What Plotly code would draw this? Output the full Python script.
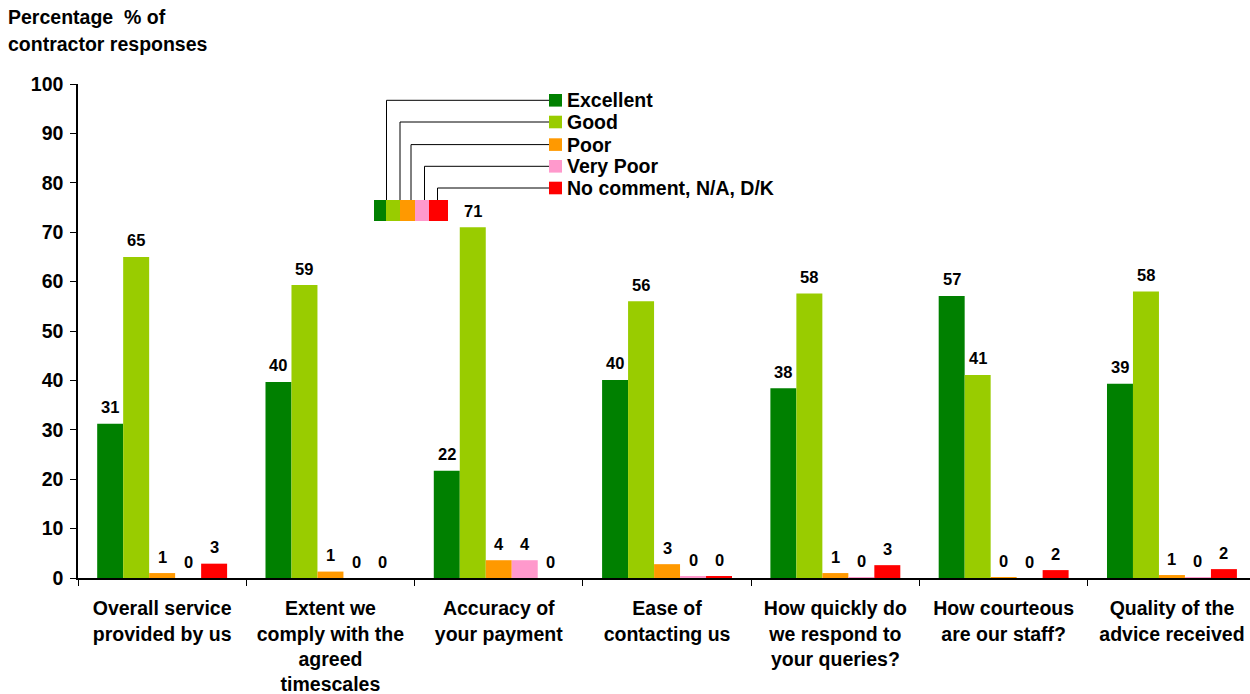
import plotly.graph_objects as go

categories = [
    "Overall service<br>provided by us",
    "Extent we<br>comply with the<br>agreed<br>timescales",
    "Accuracy of<br>your payment",
    "Ease of<br>contacting us",
    "How quickly do<br>we respond to<br>your queries?",
    "How courteous<br>are our staff?",
    "Quality of the<br>advice received",
]
series_names = ["Excellent", "Good", "Poor", "Very Poor", "No comment, N/A, D/K"]
excellent = [31.2, 39.7, 21.7, 40.1, 38.4, 57.1, 39.3]
good = [65.0, 59.3, 71.0, 56.0, 57.6, 41.1, 58.0]
poor = [1.0, 1.3, 3.6, 2.8, 1.0, 0.2, 0.6]
very_poor = [0.0, 0.0, 3.6, 0.4, 0.2, 0.0, 0.2]
no_comment = [2.9, 0.0, 0.0, 0.4, 2.6, 1.6, 1.8]
colors = ["#008000", "#99CC00", "#FF9900", "#FF99CC", "#FF0000"]
y_ticks = list(range(0, 101, 10))
title_lines = ["Percentage  % of", "contractor responses"]

FONT = "Liberation Sans, Arial, sans-serif"
FS = 19.5
W, H = 1250, 694
L, R, T, B = 78, 1250, 84, 578
BARGAP = 0.228
CAT_PX = 168.3

all_series = [excellent, good, poor, very_poor, no_comment]
n_series = len(all_series)
bar_w = (1 - BARGAP) / n_series

fig = go.Figure()
annotations = []
for i, (name, vals, col) in enumerate(zip(series_names, all_series, colors)):
    fig.add_trace(go.Bar(
        x=categories, y=vals, name=name, marker=dict(color=col, line=dict(width=0)),
        showlegend=False,
    ))
    off = (i - (n_series - 1) / 2) * bar_w
    for j, v in enumerate(vals):
        annotations.append(dict(
            xref="x", yref="y", x=j + off, y=v, yshift=16.5,
            xanchor="center", yanchor="middle", showarrow=False,
            text=f"<b>{v:.0f}</b>",
            font=dict(family=FONT, size=16.5, color="black"),
        ))

def px(x):
    return (x - L) / (R - L)

def py(y):
    return (B - y) / (B - T)

shapes = []
# custom legend: stacked colour swatches with connector lines
sw_x = [374, 386, 400, 415, 429, 448]
conn_x = [386.5, 400, 411, 424.5, 437.5]
row_y = [100.3, 122, 144.6, 166.3, 188]
for i, (name, col) in enumerate(zip(series_names, colors)):
    shapes.append(dict(type="rect", xref="paper", yref="paper",
                       x0=px(sw_x[i]), x1=px(sw_x[i + 1]), y0=py(221), y1=py(200),
                       fillcolor=col, line=dict(width=0), layer="above"))
    shapes.append(dict(type="path", xref="paper", yref="paper",
                       path=f"M {px(conn_x[i])} {py(200)} L {px(conn_x[i])} {py(row_y[i])} L {px(549)} {py(row_y[i])}",
                       line=dict(color="black", width=1)))
    shapes.append(dict(type="rect", xref="paper", yref="paper",
                       x0=px(549), x1=px(562), y0=py(row_y[i] + 6.3), y1=py(row_y[i] - 6.3),
                       fillcolor=col, line=dict(width=0)))
    annotations.append(dict(xref="paper", yref="paper", x=px(565), y=py(row_y[i]),
                            xanchor="left", yanchor="middle", showarrow=False,
                            text=f"<b>{name}</b>",
                            font=dict(family=FONT, size=FS, color="black")))

for k, line in enumerate(title_lines):
    annotations.append(dict(xref="paper", yref="paper", x=px(6), y=py(17 + 27 * k),
                            xanchor="left", yanchor="middle", align="left", showarrow=False,
                            text=f"<b>{line}</b>",
                            font=dict(family=FONT, size=FS, color="black")))

fig.update_layout(
    width=W, height=H, autosize=False,
    margin=dict(l=L, r=W - R, t=T, b=H - B, pad=0),
    paper_bgcolor="white", plot_bgcolor="white",
    barmode="group", bargap=BARGAP, bargroupgap=0,
    shapes=shapes, annotations=annotations,
    font=dict(family=FONT, color="black"),
)
fig.update_xaxes(
    range=[-0.5, -0.5 + (R - L) / CAT_PX],
    showline=True, linecolor="black", linewidth=1.5,
    ticks="outside", ticklen=6, tickcolor="black", tickson="boundaries",
    tickfont=dict(family=FONT, size=FS, color="black", weight="bold"),
    ticklabelstandoff=12,
    showgrid=False, zeroline=False, tickangle=0,
)
fig.update_yaxes(
    range=[0, 100], tickvals=y_ticks,
    showline=True, linecolor="black", linewidth=1.5,
    ticks="outside", ticklen=6, tickcolor="black",
    tickfont=dict(family=FONT, size=FS, color="black", weight="bold"),
    ticklabelstandoff=3,
    showgrid=False, zeroline=False,
)

fig.write_html("out.html")
